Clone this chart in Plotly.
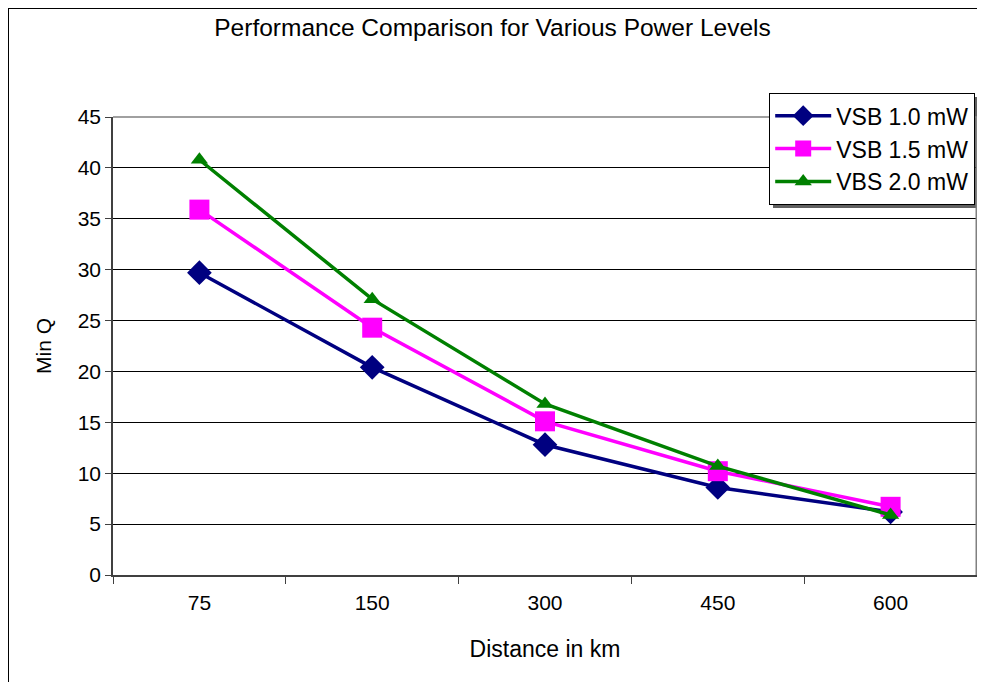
import plotly.graph_objects as go

distances = ["75", "150", "300", "450", "600"]
vsb_10 = [29.7, 20.4, 12.8, 8.6, 6.2]
vsb_15 = [35.9, 24.3, 15.1, 10.2, 6.7]
vbs_20 = [40.8, 27.1, 16.8, 10.7, 5.9]

names = ["VSB 1.0 mW", "VSB 1.5 mW", "VBS 2.0 mW"]
colors = ["#000080", "#FF00FF", "#008000"]
symbols = ["diamond", "square", "triangle-up"]
sizes = [19, 20, 15]
series = [vsb_10, vsb_15, vbs_20]

FONT = "Liberation Sans, Arial, sans-serif"

# figure is placed 8px in from the window edge by the page body margin
W, H = 969, 674
OFF = 8

def fx(x):  # window pixel -> paper (whole figure, zero margins)
    return (x - OFF) / W

def fy(y):
    return 1 - (y - OFF) / H

# plot area in window pixels
PL, PR, PT, PB = 113, 977, 117, 575

fig = go.Figure()
for name, vals, c, s, sz in zip(names, series, colors, symbols, sizes):
    fig.add_trace(go.Scatter(
        x=distances, y=vals, name=name, mode="lines+markers",
        line=dict(color=c, width=3.5),
        marker=dict(symbol=s, size=sz, color=c, line=dict(width=0)),
        xaxis="x", yaxis="y",
    ))

# empty helper subplot whose axis lines form the outer chart frame (left/top)
fig.add_trace(go.Scatter(x=[None], y=[None], xaxis="x2", yaxis="y2",
                         showlegend=False, hoverinfo="skip", mode="markers"))

fig.update_layout(
    width=W, height=H,
    margin=dict(l=0, r=0, t=0, b=0, pad=0),
    paper_bgcolor="white", plot_bgcolor="rgba(0,0,0,0)",
    font=dict(family=FONT, color="black", size=19),
    title=dict(text="Performance Comparison for Various Power Levels",
               x=0.5, xanchor="center", y=1 - 19 / H, yanchor="middle",
               font=dict(size=24.5)),
    xaxis=dict(type="category", range=[-0.5, 4.5], tickson="boundaries",
               domain=[fx(PL), fx(PR)], anchor="y", automargin=False,
               ticks="outside", ticklen=7, tickcolor="#404040",
               showline=True, linecolor="#404040", linewidth=1.5, mirror=False,
               showgrid=False, tickfont=dict(size=21), ticklabelstandoff=8,
               title=dict(text="Distance in km", font=dict(size=23), standoff=28)),
    yaxis=dict(range=[0, 45], dtick=5, ticks="outside", ticklen=6, tickcolor="#404040",
               domain=[fy(PB), fy(PT)], anchor="x", automargin=False,
               showline=True, linecolor="#404040", linewidth=1.5,
               showgrid=True, gridcolor="black", gridwidth=1, zeroline=False,
               tickfont=dict(size=21),
               title=dict(text="Min Q", font=dict(size=21), standoff=20)),
    xaxis2=dict(domain=[1 / W, 1], anchor="y2", side="top", range=[0, 1],
                showline=True, linecolor="black", linewidth=1.5,
                showticklabels=False, ticks="", showgrid=False, zeroline=False,
                automargin=False, fixedrange=True),
    yaxis2=dict(domain=[0, 1 - 1 / H], anchor="x2", side="left", range=[0, 1],
                showline=True, linecolor="black", linewidth=1.5,
                showticklabels=False, ticks="", showgrid=False, zeroline=False,
                automargin=False, fixedrange=True),
    legend=dict(x=fx(769), xanchor="left", y=fy(93), yanchor="top",
                bgcolor="white", bordercolor="black", borderwidth=1.2,
                font=dict(size=23), itemwidth=56, tracegroupgap=0),
    showlegend=True,
)

# plot area right/top border (gray)
fig.add_shape(type="line", xref="paper", yref="paper",
              x0=fx(PR), x1=fx(PR), y0=fy(PB), y1=fy(PT),
              line=dict(color="#808080", width=3), layer="above")
fig.add_shape(type="line", xref="paper", yref="paper",
              x0=fx(PL), x1=fx(PR), y0=fy(PT), y1=fy(PT),
              line=dict(color="#808080", width=1.5), layer="above")
# legend shadow
fig.add_shape(type="rect", xref="paper", yref="paper",
              x0=fx(773), x1=fx(977), y0=fy(208), y1=fy(97),
              line=dict(width=0), fillcolor="#606060", layer="below")

fig.write_html("out.html")
